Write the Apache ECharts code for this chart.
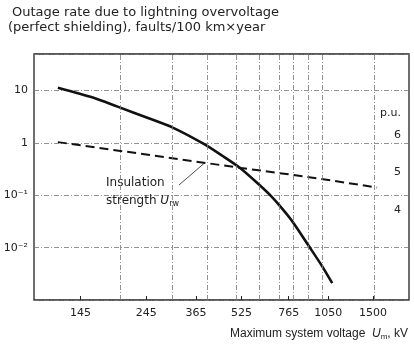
<!DOCTYPE html>
<html>
<head>
<meta charset="utf-8">
<script src="https://cdn.jsdelivr.net/npm/echarts@6/dist/echarts.min.js"></script>
<style>
  html, body { margin: 0; padding: 0; background: #fff; }
  #chart { width: 414px; height: 348px; }
</style>
</head>
<body>
<div id="chart"></div>
<script>
// voltage tick labels (kV) and dash-dot grid voltages
const voltageTicks = [145, 245, 365, 525, 765, 1050, 1500];
const gridVoltages = [200, 300, 400, 500, 600, 700, 800, 900, 1000, 1500];

// outage rate, faults/100 km x year (solid curve)
const outageKv = [121, 160, 195, 250, 303, 391, 450, 516, 590, 656, 720, 787, 901, 1000, 1083];
const outageRate = [11.4, 7.4, 4.95, 2.97, 1.97, 0.94, 0.57, 0.34, 0.18, 0.104, 0.059, 0.032, 0.0105, 0.0044, 0.0021];

// insulation strength, p.u. (dashed line, right scale)
const insulationKv = [121, 245, 365, 525, 765, 1050, 1550];
const insulationPu = [5.81, 5.48, 5.29, 5.12, 4.95, 4.8, 4.6];

// left decades and right p.u. labels
const decadeTicks = [-2, -1, 0, 1];
const puTicks = [4, 5, 6];

const lg = Math.log10;
const font = "DejaVu Sans";
const ink = "#222";
const gridStyle = { color: "#777", width: 0.8, type: [5, 2, 1, 2] };

const chart = echarts.init(document.getElementById("chart"));

const supers = { "-1": "10⁻¹", "-2": "10⁻²", "0": "1", "1": "10" };

const option = {
  animation: false,
  backgroundColor: "#fff",
  grid: {
    left: 34, right: 5, top: 54, bottom: 48,
    show: true, borderColor: "#222", borderWidth: 1.3, backgroundColor: "transparent",
  },
  xAxis: {
    type: "value",
    min: 2,
    max: lg(2000),
    splitLine: { show: false },
    axisLine: { show: false, onZero: false },
    axisTick: { show: true, inside: true, customValues: voltageTicks.map(lg), length: 4, lineStyle: { color: ink } },
    axisLabel: {
      customValues: voltageTicks.map(lg),
      formatter: (v) => String(Math.round(Math.pow(10, v) / 5) * 5),
      color: ink, fontFamily: font, fontSize: 11, margin: 8,
    },
  },
  yAxis: [
    {
      type: "value",
      min: -3,
      max: 1.7,
      interval: 1,
      axisLine: { show: false },
      axisTick: { show: false },
      splitLine: { show: true, lineStyle: gridStyle },
      axisLabel: {
        formatter: (v) => (decadeTicks.includes(v) ? supers[String(v)] : ""),
        color: ink, fontFamily: font, fontSize: 11, margin: 6,
      },
    },
    {
      type: "value",
      min: 1.6,
      max: 8.16,
      position: "right",
      axisLine: { show: false },
      axisTick: { show: false },
      splitLine: { show: false },
      axisLabel: {
        inside: true,
        customValues: puTicks.concat([6.58]),
        formatter: (v) => (v > 6.5 ? "p.u." : String(v)),
        color: ink, fontFamily: font, fontSize: 11, margin: 8,
      },
    },
  ],
  series: [
    {
      name: "grid",
      type: "line",
      data: [],
      silent: true,
      markLine: {
        silent: true,
        symbol: "none",
        label: { show: false },
        lineStyle: gridStyle,
        data: gridVoltages.map((kv) => ({ xAxis: lg(kv) })),
      },
    },
    {
      name: "Outage rate",
      type: "line",
      smooth: 0.25,
      symbol: "none",
      lineStyle: { color: "#111", width: 2.6 },
      data: outageKv.map((kv, i) => [lg(kv), lg(outageRate[i])]),
    },
    {
      name: "Insulation strength",
      type: "line",
      yAxisIndex: 1,
      symbol: "none",
      lineStyle: { color: "#111", width: 2, type: [9, 5] },
      data: insulationKv.map((kv, i) => [lg(kv), insulationPu[i]]),
    },
  ],
};

chart.setOption(option);

// leader from the annotation to the dashed line, just right of the 365 kV point
const tip = chart.convertToPixel({ xAxisIndex: 0, yAxisIndex: 1 }, [lg(390), 5.25]);

chart.setOption({
  graphic: [
    {
      type: "text", left: 12, top: 6,
      style: { text: "Outage rate due to lightning overvoltage", font: "13px " + font, fill: ink },
    },
    {
      type: "text", left: 8, top: 21,
      style: { text: "(perfect shielding), faults/100 km×year", font: "13px " + font, fill: ink },
    },
    {
      type: "text", left: 106, top: 177,
      style: { text: "Insulation", font: "12px " + font, fill: ink },
    },
    {
      type: "text", left: 106, top: 195,
      style: {
        text: "strength {u|U}{s|rw}",
        font: "12px " + font, fill: ink,
        rich: {
          u: { fontFamily: font, fontSize: 12, fontStyle: "italic", fill: ink },
          s: { fontFamily: font, fontSize: 8, fill: ink, padding: [6, 0, 0, 0] },
        },
      },
    },
    {
      type: "line",
      shape: { x1: 179, y1: 185, x2: tip[0], y2: tip[1] },
      style: { stroke: ink, lineWidth: 0.8 },
    },
    {
      type: "text", right: 6, top: 328,
      style: {
        text: "Maximum system voltage  {u|U}{s|m}, kV",
        font: "12px Liberation Sans", fill: ink,
        rich: {
          u: { fontFamily: "Liberation Sans", fontSize: 12, fontStyle: "italic", fill: ink },
          s: { fontFamily: "Liberation Sans", fontSize: 8, fill: ink, padding: [6, 0, 0, 0] },
        },
      },
    },
  ],
});

window.addEventListener("resize", () => chart.resize());
</script>
</body>
</html>
